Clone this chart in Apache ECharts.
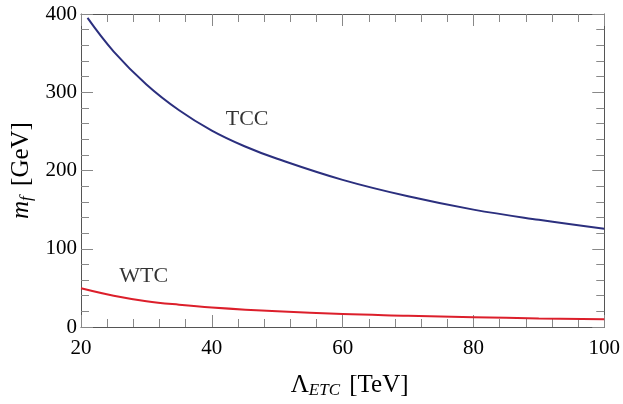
<!DOCTYPE html>
<html>
<head>
<meta charset="utf-8">
<script src="https://cdn.jsdelivr.net/npm/echarts@6/dist/echarts.min.js"></script>
<style>
  html, body { margin: 0; padding: 0; background: #fff; }
  #chart { width: 623px; height: 404px; }
</style>
</head>
<body>
<div id="chart"></div>
<script>
// values
const lambdaTCC = [21, 25, 30, 35, 40, 45, 50, 60, 70, 80, 90, 100]
const massTCC = [395, 352, 310, 277, 251, 231, 215, 188, 167, 150, 137, 125.5]
const lambdaWTC = [20, 25, 30, 35, 40, 50, 60, 70, 80, 90, 100]
const massWTC = [49.5, 40, 33, 28.5, 25, 20, 16.5, 14.5, 12.5, 11, 10]
const xTicks = [20, 40, 60, 80, 100]
const yTicks = [0, 100, 200, 300, 400]
const curveLabels = [
  { name: 'TCC', value: [45.4, 265] },
  { name: 'WTC', value: [29.6, 65.5] },
]

const serif = 'Liberation Serif'
const axisColor = '#555'
const tickColor = '#888'

function zip(xs, ys) {
  return xs.map((x, i) => [x, ys[i]])
}

function frameAxis(pos, isX, showLabels) {
  let ticks = isX ? xTicks : yTicks
  return {
    type: 'value',
    position: pos,
    min: ticks[0],
    max: ticks[ticks.length - 1],
    interval: ticks[1] - ticks[0],
    axisLine: { show: true, onZero: false, lineStyle: { color: axisColor, width: 1 } },
    axisTick: { show: true, inside: true, length: 12, lineStyle: { color: tickColor, width: 1 } },
    minorTick: { show: true, splitNumber: 5, length: 8, lineStyle: { color: tickColor, width: 1 } },
    splitLine: { show: false },
    axisLabel: {
      show: showLabels,
      color: '#000',
      fontFamily: serif,
      fontSize: 21,
      margin: isX ? 11 : 4,
    },
  }
}

const chart = echarts.init(document.getElementById('chart'))

let xMain = frameAxis('bottom', true, true)
xMain.name = 'Λ{sub|ETC} [TeV]'
xMain.nameLocation = 'middle'
xMain.nameGap = 45
xMain.nameTextStyle = {
  color: '#000',
  fontFamily: serif,
  fontSize: 25,
  padding: [0, 0, 0, 14],
  rich: {
    sub: { fontFamily: serif, fontStyle: 'italic', fontSize: 17, padding: [10, 3, 0, 0] },
  },
}

let yMain = frameAxis('left', false, true)
yMain.name = '{it|m}{sub|f} [GeV]'
yMain.nameLocation = 'middle'
yMain.nameGap = 44
yMain.nameTextStyle = {
  color: '#000',
  fontFamily: serif,
  fontSize: 25,
  rich: {
    it: { fontFamily: serif, fontStyle: 'italic', fontSize: 25 },
    sub: { fontFamily: serif, fontStyle: 'italic', fontSize: 17, padding: [10, 4, 0, 0] },
  },
}

chart.setOption({
  animation: false,
  backgroundColor: '#fff',
  grid: { left: 81, right: 17, top: 14, bottom: 76 },
  xAxis: [xMain, frameAxis('top', true, false)],
  yAxis: [yMain, frameAxis('right', false, false)],
  series: [
    {
      name: 'TCC',
      type: 'line',
      smooth: 0.4,
      symbol: 'none',
      data: zip(lambdaTCC, massTCC),
      lineStyle: { color: '#2b2f7e', width: 2 },
    },
    {
      name: 'WTC',
      type: 'line',
      smooth: 0.4,
      symbol: 'none',
      data: zip(lambdaWTC, massWTC),
      lineStyle: { color: '#dc1f2b', width: 2 },
    },
    {
      type: 'scatter',
      symbolSize: 0,
      silent: true,
      itemStyle: { color: 'transparent' },
      data: curveLabels,
      label: {
        show: true,
        position: [0, 0],
        align: 'center',
        verticalAlign: 'middle',
        formatter: (p) => p.name,
        color: '#000',
        fontFamily: serif,
        fontSize: 22,
      },
    },
  ],
})
</script>
</body>
</html>
